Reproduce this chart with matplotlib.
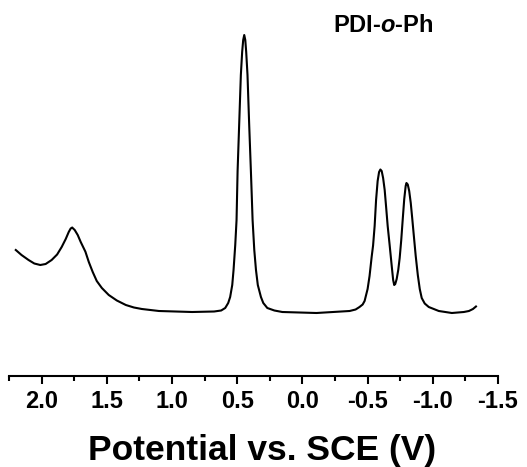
import matplotlib
matplotlib.use("Agg")
import matplotlib.pyplot as plt
from matplotlib.ticker import MultipleLocator

# differential pulse voltammogram, current in arbitrary units
potential_V = [
    2.198, 2.154, 2.100, 2.056, 2.010, 1.969, 1.923, 1.881, 1.846, 1.815,
    1.792, 1.777, 1.765, 1.762, 1.746, 1.723, 1.700, 1.664, 1.638, 1.608,
    1.577, 1.538, 1.485, 1.423, 1.354, 1.292, 1.231, 1.100, 0.846, 0.677,
    0.623, 0.592, 0.569, 0.554, 0.538, 0.528, 0.515, 0.505, 0.497, 0.485,
    0.472, 0.462, 0.454, 0.446, 0.438, 0.431, 0.421, 0.408, 0.395, 0.388,
    0.382, 0.369, 0.356, 0.342, 0.318, 0.300, 0.269, 0.215, 0.154, -0.108,
    -0.362, -0.408, -0.438, -0.462, -0.477, -0.500, -0.515, -0.531, -0.542, -0.554,
    -0.565, -0.577, -0.588, -0.598, -0.608, -0.619, -0.631, -0.642, -0.654, -0.669,
    -0.685, -0.696, -0.704, -0.712, -0.723, -0.735, -0.746, -0.758, -0.769, -0.781,
    -0.792, -0.798, -0.808, -0.819, -0.831, -0.842, -0.854, -0.869, -0.885, -0.900,
    -0.915, -0.938, -0.969, -1.046, -1.146, -1.238, -1.277, -1.308, -1.331,
]
current_au = [
    0.630, 0.580, 0.530, 0.495, 0.480, 0.490, 0.530, 0.585, 0.660, 0.740,
    0.810, 0.845, 0.855, 0.850, 0.830, 0.780, 0.710, 0.613, 0.510, 0.410,
    0.320, 0.250, 0.180, 0.125, 0.080, 0.055, 0.040, 0.020, 0.010, 0.015,
    0.025, 0.050, 0.100, 0.160, 0.280, 0.430, 0.680, 0.930, 1.420, 1.880,
    2.380, 2.610, 2.730, 2.780, 2.730, 2.610, 2.380, 1.880, 1.420, 1.160,
    0.930, 0.630, 0.430, 0.280, 0.160, 0.100, 0.050, 0.025, 0.010, 0.000,
    0.020, 0.035, 0.060, 0.085, 0.120, 0.240, 0.370, 0.560, 0.675, 0.870,
    1.130, 1.320, 1.410, 1.435, 1.420, 1.350, 1.230, 1.060, 0.870, 0.680,
    0.470, 0.330, 0.280, 0.290, 0.340, 0.430, 0.550, 0.730, 0.930, 1.140,
    1.270, 1.300, 1.285, 1.220, 1.100, 0.950, 0.780, 0.570, 0.380, 0.240,
    0.150, 0.095, 0.060, 0.020, 0.000, 0.010, 0.020, 0.040, 0.065,
]
sample_name = r"PDI-$\mathbfit{o}$-Ph"
x_label = "Potential vs. SCE (V)"

plt.rcParams["font.family"] = "Liberation Sans"
plt.rcParams["font.weight"] = "bold"
plt.rcParams["axes.unicode_minus"] = False
plt.rcParams["mathtext.fontset"] = "custom"
plt.rcParams["mathtext.bfit"] = "Liberation Sans:italic:bold"

W, H = 527, 467
fig = plt.figure(figsize=(W / 100, H / 100), dpi=100)
ax = fig.add_axes([9 / W, (H - 376) / H, 489 / W, 366 / H])

ax.plot(potential_V, current_au, color="black", lw=1.5,
        solid_joinstyle="round")

ax.set_xlim(2.25, -1.5)
ax.set_ylim(-0.63, 3.03)

for side in ("left", "right", "top"):
    ax.spines[side].set_visible(False)
ax.spines["bottom"].set_linewidth(1.5)
ax.set_yticks([])

ax.xaxis.set_major_locator(MultipleLocator(0.5))
ax.xaxis.set_minor_locator(MultipleLocator(0.25))
ax.tick_params(axis="x", which="major", direction="out", length=6, width=1.5,
               labelsize=17, pad=4)
ax.tick_params(axis="x", which="minor", direction="out", length=3.5, width=1.5)
for lbl in ax.get_xticklabels():
    lbl.set_fontweight("bold")

ax.set_xlabel(x_label, fontsize=25.5, fontweight="bold", va="baseline")
ax.xaxis.set_label_coords(0.518, -0.2295)

fig.text(333 / W, 1 - 32 / H, sample_name, fontsize=17, fontweight="bold",
         ha="left", va="baseline")

fig.savefig("out.png", dpi=100)
